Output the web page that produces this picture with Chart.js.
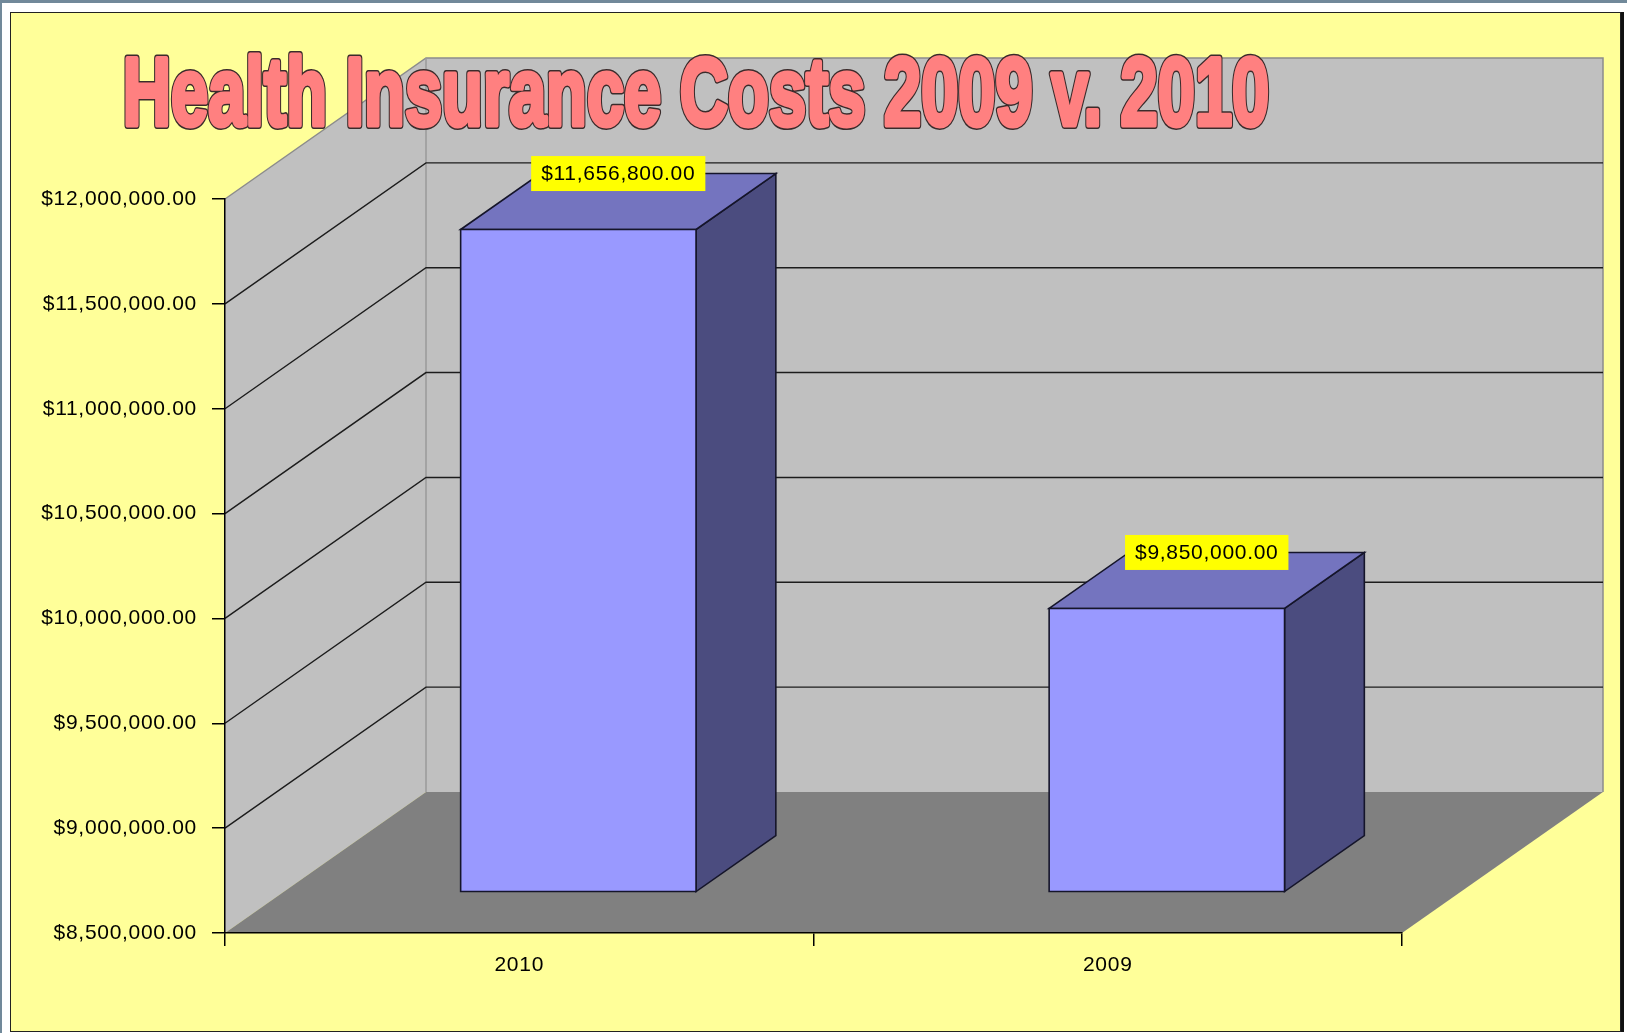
<!DOCTYPE html>
<html>
<head>
<meta charset="utf-8">
<title>Health Insurance Costs 2009 v. 2010</title>
<script src="https://cdn.jsdelivr.net/npm/chart.js@4.4.1/dist/chart.umd.min.js"></script>
<style>
  html, body { margin: 0; padding: 0; background: #fff; }
  body { width: 1627px; height: 1033px; position: relative; overflow: hidden; }
  .edge-top { position: absolute; left: 0; top: 0; width: 1627px; height: 3px; background: #71899a; }
  .edge-left { position: absolute; left: 0; top: 0; width: 2px; height: 1033px; background: #71899a; }
  .frame {
    position: absolute; left: 10px; top: 12px; width: 1611px; height: 1020px;
    box-sizing: border-box; border: 1px solid #222; background: #ffff99;
    box-shadow: 3px 0 0 #111;
  }
  #costChart { position: absolute; left: 0; top: 0; width: 1627px; height: 1033px; }
</style>
</head>
<body>
<div class="edge-top"></div>
<div class="edge-left"></div>
<div class="frame"></div>
<canvas id="costChart" width="1627" height="1033"></canvas>

<script>
// chart data
const years = ['2010', '2009'];
const costs = [11656800, 9850000];
const costTicks = [8500000, 9000000, 9500000, 10000000, 10500000, 11000000, 11500000, 12000000];
const titleText = 'Health Insurance Costs 2009 v. 2010';

// fake 3d depth (Excel style), pixels from the front plane to the back wall
const DEPTH_X = 201;
const DEPTH_Y = -141;
// where the bars sit in that depth (fractions)
const BAR_FRONT = 0.294;
const BAR_DEPTH = 0.397;

const FONT = '"Liberation Sans", Arial, sans-serif';
const SPACING = '0.7px';

const money = v => '$' + v.toLocaleString('en-US', { minimumFractionDigits: 2, maximumFractionDigits: 2 });

function poly(ctx, pts, fill, stroke, lw) {
  ctx.beginPath();
  ctx.moveTo(pts[0][0], pts[0][1]);
  for (let i = 1; i < pts.length; i++) ctx.lineTo(pts[i][0], pts[i][1]);
  ctx.closePath();
  if (fill) { ctx.fillStyle = fill; ctx.fill(); }
  if (stroke) { ctx.strokeStyle = stroke; ctx.lineWidth = lw || 1; ctx.stroke(); }
}

function line(ctx, pts, color, lw) {
  ctx.beginPath();
  ctx.moveTo(pts[0][0], pts[0][1]);
  for (let i = 1; i < pts.length; i++) ctx.lineTo(pts[i][0], pts[i][1]);
  ctx.strokeStyle = color;
  ctx.lineWidth = lw;
  ctx.stroke();
}

const excel3d = {
  id: 'excel3d',
  beforeDraw(chart) {
    const ctx = chart.ctx;
    ctx.letterSpacing = SPACING;
    const { left, right, top, bottom } = chart.chartArea;
    const yScale = chart.scales.y;

    ctx.save();
    // side wall, back wall, floor
    poly(ctx, [[left, top], [left + DEPTH_X, top + DEPTH_Y], [left + DEPTH_X, bottom + DEPTH_Y], [left, bottom]], '#c0c0c0');
    poly(ctx, [[left + DEPTH_X, top + DEPTH_Y], [right + DEPTH_X, top + DEPTH_Y], [right + DEPTH_X, bottom + DEPTH_Y], [left + DEPTH_X, bottom + DEPTH_Y]], '#c0c0c0');
    poly(ctx, [[left, bottom], [right, bottom], [right + DEPTH_X, bottom + DEPTH_Y], [left + DEPTH_X, bottom + DEPTH_Y]], '#808080');

    // wall edges
    line(ctx, [[left, top], [left + DEPTH_X, top + DEPTH_Y], [right + DEPTH_X, top + DEPTH_Y], [right + DEPTH_X, bottom + DEPTH_Y]], '#8c8c8c', 1.5);
    line(ctx, [[left + DEPTH_X, top + DEPTH_Y], [left + DEPTH_X, bottom + DEPTH_Y]], '#9a9a9a', 1.5);

    // gridlines across side wall and back wall
    costTicks.forEach(v => {
      if (v === yScale.min || v === yScale.max) return;
      const py = yScale.getPixelForValue(v);
      line(ctx, [[left, py], [left + DEPTH_X, py + DEPTH_Y], [right + DEPTH_X, py + DEPTH_Y]], '#1c1c1c', 1.4);
    });
    ctx.restore();
  },
  afterDatasetsDraw(chart) {
    const ctx = chart.ctx;
    const meta = chart.getDatasetMeta(0);
    const floorY = chart.scales.y.getPixelForValue(chart.scales.y.min);
    const fx = BAR_FRONT * DEPTH_X, fy = BAR_FRONT * DEPTH_Y;
    const bx = BAR_DEPTH * DEPTH_X, by = BAR_DEPTH * DEPTH_Y;

    ctx.save();
    ctx.lineJoin = 'miter';
    meta.data.forEach((bar, i) => {
      const p = bar.getProps(['x', 'y', 'base', 'width'], true);
      // bars start at 0, the axis starts at 8.5M: cut them at the floor
      const base = Math.min(p.base, floorY);
      const l = p.x - p.width / 2 + fx, r = p.x + p.width / 2 + fx;
      const t = p.y + fy, b = base + fy;
      const edge = '#15152a';
      // side face, top face, front face
      poly(ctx, [[r, t], [r + bx, t + by], [r + bx, b + by], [r, b]], '#4b4c7f', edge, 1.6);
      poly(ctx, [[l, t], [l + bx, t + by], [r + bx, t + by], [r, t]], '#7474bf', edge, 1.6);
      poly(ctx, [[l, t], [r, t], [r, b], [l, b]], '#9999ff', edge, 1.6);

      // value label in yellow box at the back top edge of the bar
      const text = money(costs[i]);
      ctx.font = '21px ' + FONT;
      ctx.letterSpacing = SPACING;
      const tw = ctx.measureText(text).width;
      const cx = p.x + fx + bx / 2;
      const cy = t + by;
      const w = tw + 20, h = 35;
      ctx.fillStyle = '#ffff00';
      ctx.fillRect(cx - w / 2, cy - h / 2, w, h);
      ctx.fillStyle = '#000';
      ctx.textAlign = 'center';
      ctx.textBaseline = 'middle';
      ctx.fillText(text, cx, cy + 1);
    });
    ctx.restore();
  },
  afterDraw(chart) {
    // big outlined title, condensed like the original WordArt-ish font
    const ctx = chart.ctx;
    ctx.save();
    ctx.letterSpacing = '0px';
    ctx.font = 'bold 97px ' + FONT;
    const thick = 5;
    const tw = ctx.measureText(titleText).width;
    const sx = 1152 / (tw + thick + 3);
    ctx.translate(696, 125);
    ctx.scale(sx, 1);
    ctx.textAlign = 'center';
    ctx.textBaseline = 'alphabetic';
    ctx.lineJoin = 'round';
    ctx.strokeStyle = '#3b2b2b';
    ctx.lineWidth = thick + 3;
    ctx.strokeText(titleText, 0, 0);
    ctx.strokeStyle = '#ff8080';
    ctx.lineWidth = thick;
    ctx.strokeText(titleText, 0, 0);
    ctx.fillStyle = '#ff8080';
    ctx.fillText(titleText, 0, 0);
    ctx.restore();
  }
};

const tickFont = { family: FONT, size: 21 };

new Chart(document.getElementById('costChart'), {
  type: 'bar',
  data: {
    labels: years,
    datasets: [{
      label: 'Health insurance cost',
      data: costs,
      backgroundColor: 'rgba(0,0,0,0)',
      borderWidth: 0,
      barPercentage: 0.4,
      categoryPercentage: 1.0
    }]
  },
  options: {
    responsive: false,
    animation: false,
    devicePixelRatio: 1,
    layout: { padding: { left: 0, top: 199, right: 225, bottom: 40 } },
    plugins: {
      legend: { display: false },
      title: { display: false },
      tooltip: { enabled: false }
    },
    scales: {
      x: {
        type: 'category',
        offset: true,
        grid: { offset: true, drawOnChartArea: false, tickLength: 13, color: '#000', lineWidth: 1.5 },
        border: { color: '#000', width: 1.5 },
        ticks: { color: '#000', font: tickFont, padding: 7, maxRotation: 0 },
        afterFit: s => { s.height = 60; }
      },
      y: {
        min: costTicks[0],
        max: costTicks[costTicks.length - 1],
        afterBuildTicks: s => { s.ticks = costTicks.map(v => ({ value: v })); },
        grid: { drawOnChartArea: false, tickLength: 13, color: '#000', lineWidth: 1.5 },
        border: { color: '#000', width: 1.5 },
        ticks: { color: '#000', font: tickFont, padding: 15, callback: v => money(v) },
        afterFit: s => { s.width = 225; }
      }
    }
  },
  plugins: [excel3d]
});
</script>
</body>
</html>
